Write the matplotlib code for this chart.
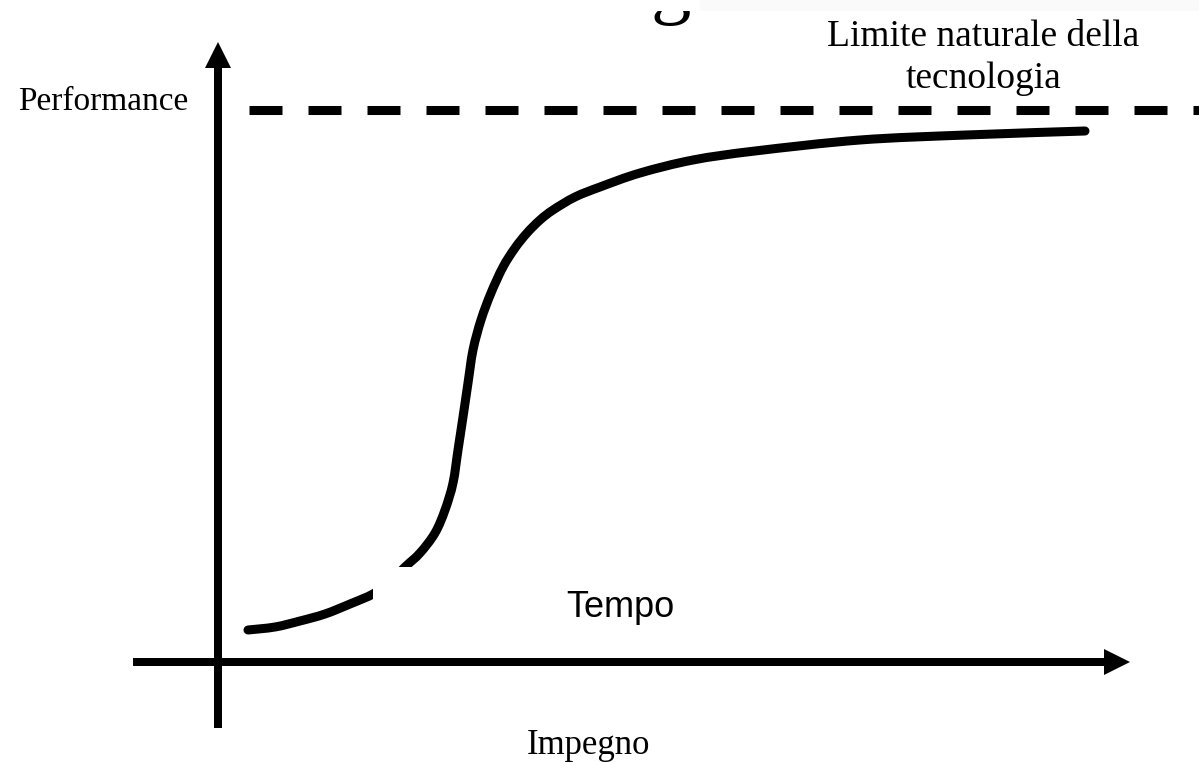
import numpy as np
import matplotlib
matplotlib.use("Agg")
from matplotlib import pyplot as plt
from matplotlib.patches import Rectangle, PathPatch
from matplotlib.path import Path

# S-curve: effort (Impegno) vs performance, origin at the axes crossing
effort = [30, 57, 82, 107, 132, 155, 172, 187, 202, 217, 227, 235, 240, 245, 250,
          255, 263, 273, 285, 297, 309, 322, 335, 357, 382, 422, 475, 537, 642, 748, 867]
perf = [32, 35, 41, 48, 58, 68, 80, 95, 109, 129, 152, 179, 212, 245, 279,
        312, 342, 369, 395, 414, 429, 442, 452, 465, 475, 489, 502, 511, 522, 527, 531]

limit_perf = 552.5          # natural limit of the technology
limit_range = [31, 981]

labels = {
    "y": "Performance",
    "x": "Impegno",
    "limit": ["Limite naturale della", "tecnologia"],
    "time": "Tempo",
}

serif = ["Liberation Serif", "DejaVu Serif"]
sans = ["Liberation Sans", "DejaVu Sans"]


def smooth_path(xs, ys):
    # catmull-rom through the read points, drawn as cubic beziers
    p = np.column_stack([xs, ys]).astype(float)
    p = np.vstack([p[0], p, p[-1]])
    verts = [p[1]]
    codes = [Path.MOVETO]
    for i in range(1, len(p) - 2):
        c1 = p[i] + (p[i + 1] - p[i - 1]) / 6
        c2 = p[i + 1] - (p[i + 2] - p[i]) / 6
        verts += [c1, c2, p[i + 1]]
        codes += [Path.CURVE4] * 3
    return Path(verts, codes)


fig = plt.figure(figsize=(11.99, 7.62), dpi=100)
ax = fig.add_axes([0, 0, 1, 1])
ax.set_xlim(-218, 981)
ax.set_ylim(-100, 662)
ax.axis("off")

px = 0.72  # points per pixel at 100 dpi

# axes with arrow heads
ax.plot([0, 0], [-66, 596], color="black", lw=8 * px, solid_capstyle="butt", zorder=3)
ax.fill([-13, 13, 0], [594, 594, 620], color="black", lw=0, zorder=3)
ax.plot([-85, 888], [0, 0], color="black", lw=8 * px, solid_capstyle="butt", zorder=3)
ax.fill([886, 886, 912], [-13, 13, 0], color="black", lw=0, zorder=3)

# dashed limit line
ax.plot(limit_range, [limit_perf, limit_perf], color="black", lw=6.5,
        dashes=(33 * px / 6.5, 26 * px / 6.5), dash_capstyle="butt", zorder=2)

# s-curve
curve = PathPatch(smooth_path(effort, perf), facecolor="none", edgecolor="black",
                  lw=6.5, capstyle="round", joinstyle="round", zorder=2)
ax.add_patch(curve)

# white box covering part of the curve
ax.add_patch(Rectangle((155, 7), 327, 88, facecolor="white", edgecolor="none", zorder=4))

# cut-off title letter at the top
ax.text(671 - 218, 662 - 9, "g", fontsize=58, family=serif, ha="center",
        va="baseline", zorder=1)
ax.add_patch(Rectangle((-218, 662 - 10.5), 1199, 20, facecolor="white",
                       edgecolor="none", zorder=5))
ax.add_patch(Rectangle((700 - 218, 662 - 10.5), 499, 20, facecolor="#fafafa",
                       edgecolor="none", zorder=5))

ax.text(18 - 218, 662 - 110, labels["y"], fontsize=24, family=serif,
        ha="left", va="baseline", zorder=6)
ax.text(589 - 218, 662 - 754, labels["x"], fontsize=25, family=serif,
        ha="center", va="baseline", zorder=6)
ax.text(983 - 218, 662 - 46, labels["limit"][0], fontsize=27, family=serif,
        ha="center", va="baseline", zorder=6)
ax.text(983 - 218, 662 - 88, labels["limit"][1], fontsize=27, family=serif,
        ha="center", va="baseline", zorder=6)
ax.text(620 - 218, 662 - 617, labels["time"], fontsize=26, family=sans,
        ha="center", va="baseline", zorder=6)

fig.savefig("out.png", dpi=100)
